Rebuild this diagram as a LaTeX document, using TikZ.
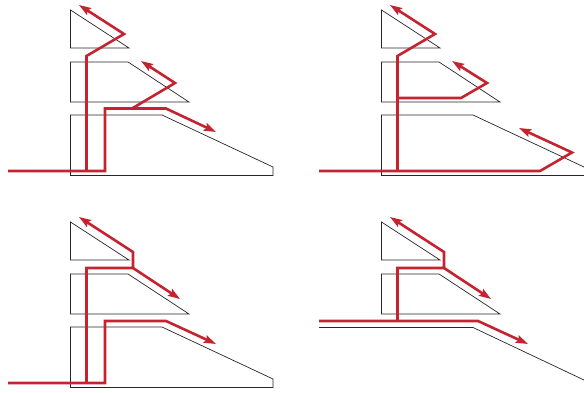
\documentclass[tikz,border=0pt]{standalone}
\usepackage{xcolor}
\usetikzlibrary{arrows.meta}
\definecolor{rayred}{RGB}{196, 35, 47}

\begin{document}
\begin{tikzpicture}[
    x=1pt, y=-1pt,
    hull/.style={draw=black!85, line width=0.7pt, line join=miter},
    ray/.style={draw=rayred, line width=2.6pt, line join=miter},
    rayarrow/.style={ray, -{Stealth[length=12pt, width=8pt, inset=2pt]}}
]
    \useasboundingbox (0,0) rectangle (584,393);

    % Top left panel
    \draw[hull] (70.5,10) -- (70.5,48) -- (129,48) -- cycle;
    \draw[hull] (70.5,62) -- (128,62) -- (189,102) -- (70.5,102) -- cycle;
    \draw[hull] (70.5,115) -- (162,115) -- (273,167) -- (273,175.5) -- (70.5,175.5) -- cycle;
    \coordinate (a1) at (86.5,171);
    \coordinate (a2) at (132,108.5);
    \draw[rayarrow] (8,171) -- (105,171) -- (105,108.5) -- (166,108.5) -- (216,132);
    \draw[rayarrow] (a1) -- (86.5,56) -- (124,34) -- (79,5);
    \draw[rayarrow] (a2) -- (175,83) -- (141,61);

    % Top right panel
    \draw[hull] (381.5,10) -- (381.5,48) -- (440,48) -- cycle;
    \draw[hull] (381.5,62) -- (439,62) -- (500,102) -- (381.5,102) -- cycle;
    \draw[hull] (584,167) -- (473,115) -- (381.5,115) -- (381.5,175.5) -- (584,175.5);
    \coordinate (b1) at (397.5,171);
    \coordinate (b2) at (397.5,98);
    \draw[rayarrow] (319,171) -- (540,171) -- (572,152.5) -- (519,128);
    \draw[rayarrow] (b1) -- (397.5,56) -- (435,34) -- (390,5);
    \draw[rayarrow] (b2) -- (461,98) -- (487,83) -- (452,61);

    % Bottom left panel
    \draw[hull] (70.5,222) -- (70.5,260) -- (129,260) -- cycle;
    \draw[hull] (70.5,274) -- (128,274) -- (189,314) -- (70.5,314) -- cycle;
    \draw[hull] (70.5,327) -- (162,327) -- (273,379) -- (273,387.5) -- (70.5,387.5) -- cycle;
    \coordinate (c1) at (86.5,383);
    \coordinate (c2) at (133,268);
    \draw[rayarrow] (8,383) -- (105,383) -- (105,321) -- (166,321) -- (216,344);
    \draw[rayarrow] (c1) -- (86.5,268) -- (c2) -- (133,252) -- (79,217);
    \draw[rayarrow] (c2) -- (180,299);

    % Bottom right panel
    \draw[hull] (381.5,222) -- (381.5,260) -- (440,260) -- cycle;
    \draw[hull] (381.5,274) -- (439,274) -- (500,314) -- (381.5,314) -- cycle;
    \draw[hull] (319,327.5) -- (473,327.5) -- (584,380);
    \coordinate (d1) at (397.5,321);
    \coordinate (d2) at (444,268);
    \draw[rayarrow] (319,321) -- (478,321) -- (528,344);
    \draw[rayarrow] (d1) -- (397.5,268) -- (d2) -- (444,252) -- (390,217);
    \draw[rayarrow] (d2) -- (491,299);

\end{tikzpicture}
\end{document}
